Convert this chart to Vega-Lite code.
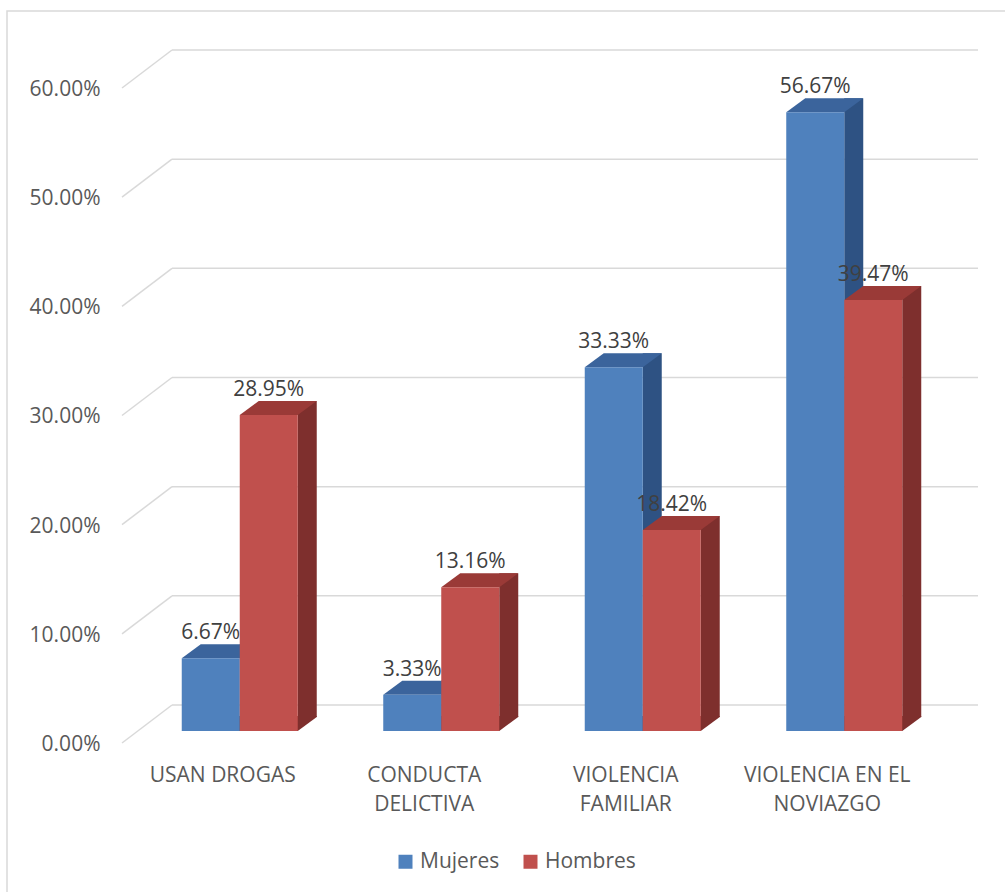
{
  "$schema": "https://vega.github.io/schema/vega-lite/v6.json",
  "width": 1000,
  "height": 884,
  "autosize": {"type": "none"},
  "padding": {"left": 7, "top": 11, "right": -2, "bottom": -3},
  "background": "white",
  "config": {
    "view": {"stroke": "#d9d9d9", "strokeWidth": 1.5},
    "font": "Open Sans"
  },
  "datasets": {
    "encuesta": [
      {"categoria": "USAN DROGAS", "serie": "Mujeres", "valor": 0.0667},
      {"categoria": "USAN DROGAS", "serie": "Hombres", "valor": 0.2895},
      {"categoria": "CONDUCTA DELICTIVA", "serie": "Mujeres", "valor": 0.0333},
      {"categoria": "CONDUCTA DELICTIVA", "serie": "Hombres", "valor": 0.1316},
      {"categoria": "VIOLENCIA FAMILIAR", "serie": "Mujeres", "valor": 0.3333},
      {"categoria": "VIOLENCIA FAMILIAR", "serie": "Hombres", "valor": 0.1842},
      {"categoria": "VIOLENCIA EN EL NOVIAZGO", "serie": "Mujeres", "valor": 0.5667},
      {"categoria": "VIOLENCIA EN EL NOVIAZGO", "serie": "Hombres", "valor": 0.3947}
    ],
    "marcas": [
      {"tick": 0}, {"tick": 0.1}, {"tick": 0.2}, {"tick": 0.3}, {"tick": 0.4}, {"tick": 0.5}, {"tick": 0.6}
    ]
  },
  "layer": [
    {
      "data": {"name": "marcas"},
      "mark": {"type": "rule", "color": "#d9d9d9", "strokeWidth": 1.5, "xOffset": -50.75, "x2Offset": 150.75, "yOffset": -38},
      "encoding": {
        "x": {"datum": "USAN DROGAS", "type": "nominal", "bandPosition": 0.5, "title": null,
              "scale": {"type": "band", "domain": ["USAN DROGAS", "CONDUCTA DELICTIVA", "VIOLENCIA FAMILIAR", "VIOLENCIA EN EL NOVIAZGO"], "paddingInner": 0, "paddingOuter": 0.48139, "align": 0.59278}},
        "x2": {"datum": "VIOLENCIA EN EL NOVIAZGO", "bandPosition": 0.5},
        "y": {"field": "tick", "type": "quantitative", "title": null,
              "scale": {"domain": [-0.139237, 0.670534], "nice": false, "zero": false}}
      }
    },
    {
      "data": {"name": "marcas"},
      "mark": {"type": "rule", "color": "#d9d9d9", "strokeWidth": 1.5, "xOffset": -100.75, "x2Offset": -50.75, "y2Offset": -38},
      "encoding": {
        "x": {"datum": "USAN DROGAS", "type": "nominal", "bandPosition": 0.5, "title": null},
        "x2": {"datum": "USAN DROGAS", "bandPosition": 0.5},
        "y": {"field": "tick", "type": "quantitative", "title": null},
        "y2": {"field": "tick"}
      }
    },
    {
      "data": {"name": "encuesta"},
      "transform": [{"filter": "datum.serie == 'Mujeres'"}],
      "mark": {"type": "bar", "width": 19, "color": "#2e5283", "xOffset": 26.5, "yOffset": -26, "y2Offset": -26},
      "encoding": {
        "x": {"field": "categoria", "type": "nominal", "sort": null, "title": null},
        "y": {"field": "valor", "type": "quantitative", "title": null},
        "y2": {"datum": 0}
      }
    },
    {
      "data": {"name": "encuesta"},
      "transform": [{"filter": "datum.serie == 'Hombres'"}],
      "mark": {"type": "bar", "width": 19, "color": "#7e2f2d", "xOffset": 84.5, "yOffset": -26, "y2Offset": -26},
      "encoding": {
        "x": {"field": "categoria", "type": "nominal", "sort": null, "title": null},
        "y": {"field": "valor", "type": "quantitative", "title": null},
        "y2": {"datum": 0}
      }
    },
    {
      "data": {"name": "encuesta"},
      "transform": [{"filter": "datum.serie == 'Mujeres'"}],
      "mark": {"type": "point", "shape": "M0.7,0L0.725,0L1.2,-0.35L1.2,-0.375L0.7,-0.375Z", "size": 6400, "filled": true, "opacity": 1, "strokeWidth": 0, "color": "#2e5283", "xOffset": -12, "yOffset": -12},
      "encoding": {
        "x": {"field": "categoria", "type": "nominal", "sort": null, "title": null},
        "y": {"datum": 0, "type": "quantitative", "title": null}
      }
    },
    {
      "data": {"name": "encuesta"},
      "transform": [{"filter": "datum.serie == 'Hombres'"}],
      "mark": {"type": "point", "shape": "M0.7,0L0.725,0L1.2,-0.35L1.2,-0.375L0.7,-0.375Z", "size": 6400, "filled": true, "opacity": 1, "strokeWidth": 0, "color": "#7e2f2d", "xOffset": 46, "yOffset": -12},
      "encoding": {
        "x": {"field": "categoria", "type": "nominal", "sort": null, "title": null},
        "y": {"datum": 0, "type": "quantitative", "title": null}
      }
    },
    {
      "data": {"name": "encuesta"},
      "transform": [{"filter": "datum.serie == 'Mujeres'"}],
      "mark": {"type": "point", "shape": "M-0.725,0L0.725,0L1.2,-0.35L-0.25,-0.35Z", "size": 6400, "filled": true, "opacity": 1, "strokeWidth": 0, "color": "#3b649c", "xOffset": -12, "yOffset": -12},
      "encoding": {
        "x": {"field": "categoria", "type": "nominal", "sort": null, "title": null},
        "y": {"field": "valor", "type": "quantitative", "title": null}
      }
    },
    {
      "data": {"name": "encuesta"},
      "transform": [{"filter": "datum.serie == 'Hombres'"}],
      "mark": {"type": "point", "shape": "M-0.725,0L0.725,0L1.2,-0.35L-0.25,-0.35Z", "size": 6400, "filled": true, "opacity": 1, "strokeWidth": 0, "color": "#9a3a37", "xOffset": 46, "yOffset": -12},
      "encoding": {
        "x": {"field": "categoria", "type": "nominal", "sort": null, "title": null},
        "y": {"field": "valor", "type": "quantitative", "title": null}
      }
    },
    {
      "data": {"name": "encuesta"},
      "transform": [{"filter": "datum.serie == 'Mujeres'"}],
      "mark": {"type": "bar", "width": 58, "xOffset": -12, "yOffset": -12, "y2Offset": -12},
      "encoding": {
        "x": {"field": "categoria", "type": "nominal", "sort": null, "title": null,
              "axis": {"orient": "bottom", "offset": -152, "labelPadding": 21, "ticks": false, "domain": false, "grid": false, "title": null, "labelAngle": 0, "labelAlign": "center", "labelFont": "Open Sans", "labelFontSize": 21, "labelColor": "#595959", "labelLineHeight": 29, "labelLimit": 400, "labelBaseline": "top",
                       "labelExpr": "datum.value == 'CONDUCTA DELICTIVA' ? ['CONDUCTA', 'DELICTIVA'] : datum.value == 'VIOLENCIA FAMILIAR' ? ['VIOLENCIA', 'FAMILIAR'] : datum.value == 'VIOLENCIA EN EL NOVIAZGO' ? ['VIOLENCIA EN EL', 'NOVIAZGO'] : datum.value"}},
        "y": {"field": "valor", "type": "quantitative", "title": null,
              "axis": {"values": [0, 0.1, 0.2, 0.3, 0.4, 0.5, 0.6], "format": ".2%", "orient": "left", "offset": -115, "labelPadding": 22, "labelOffset": 1.5, "ticks": false, "domain": false, "grid": false, "title": null, "labelFont": "Open Sans", "labelFontSize": 21, "labelColor": "#595959"}},
        "y2": {"datum": 0},
        "color": {"field": "serie", "type": "nominal",
                  "scale": {"domain": ["Mujeres", "Hombres"], "range": ["#4f81bd", "#c0504d"]},
                  "legend": {"orient": "none", "legendX": 388, "legendY": 840, "direction": "horizontal", "title": null, "symbolType": "square", "symbolSize": 196, "symbolStrokeWidth": 0, "labelFont": "Open Sans", "labelFontSize": 21, "labelColor": "#595959", "labelOffset": 4, "columnPadding": 20, "padding": 0}}
      }
    },
    {
      "data": {"name": "encuesta"},
      "transform": [{"filter": "datum.serie == 'Hombres'"}],
      "mark": {"type": "bar", "width": 58, "xOffset": 46, "yOffset": -12, "y2Offset": -12},
      "encoding": {
        "x": {"field": "categoria", "type": "nominal", "sort": null, "title": null},
        "y": {"field": "valor", "type": "quantitative", "title": null},
        "y2": {"datum": 0},
        "color": {"field": "serie", "type": "nominal"}
      }
    },
    {
      "data": {"name": "encuesta"},
      "transform": [{"filter": "datum.serie == 'Mujeres'"}],
      "mark": {"type": "text", "font": "Open Sans", "fontSize": 21, "color": "#404040", "align": "center", "baseline": "alphabetic", "xOffset": -12, "yOffset": -31},
      "encoding": {
        "x": {"field": "categoria", "type": "nominal", "sort": null, "title": null},
        "y": {"field": "valor", "type": "quantitative", "title": null},
        "text": {"field": "valor", "type": "quantitative", "format": ".2%"}
      }
    },
    {
      "data": {"name": "encuesta"},
      "transform": [{"filter": "datum.serie == 'Hombres'"}],
      "mark": {"type": "text", "font": "Open Sans", "fontSize": 21, "color": "#404040", "align": "center", "baseline": "alphabetic", "xOffset": 46, "yOffset": -31},
      "encoding": {
        "x": {"field": "categoria", "type": "nominal", "sort": null, "title": null},
        "y": {"field": "valor", "type": "quantitative", "title": null},
        "text": {"field": "valor", "type": "quantitative", "format": ".2%"}
      }
    }
  ]
}
